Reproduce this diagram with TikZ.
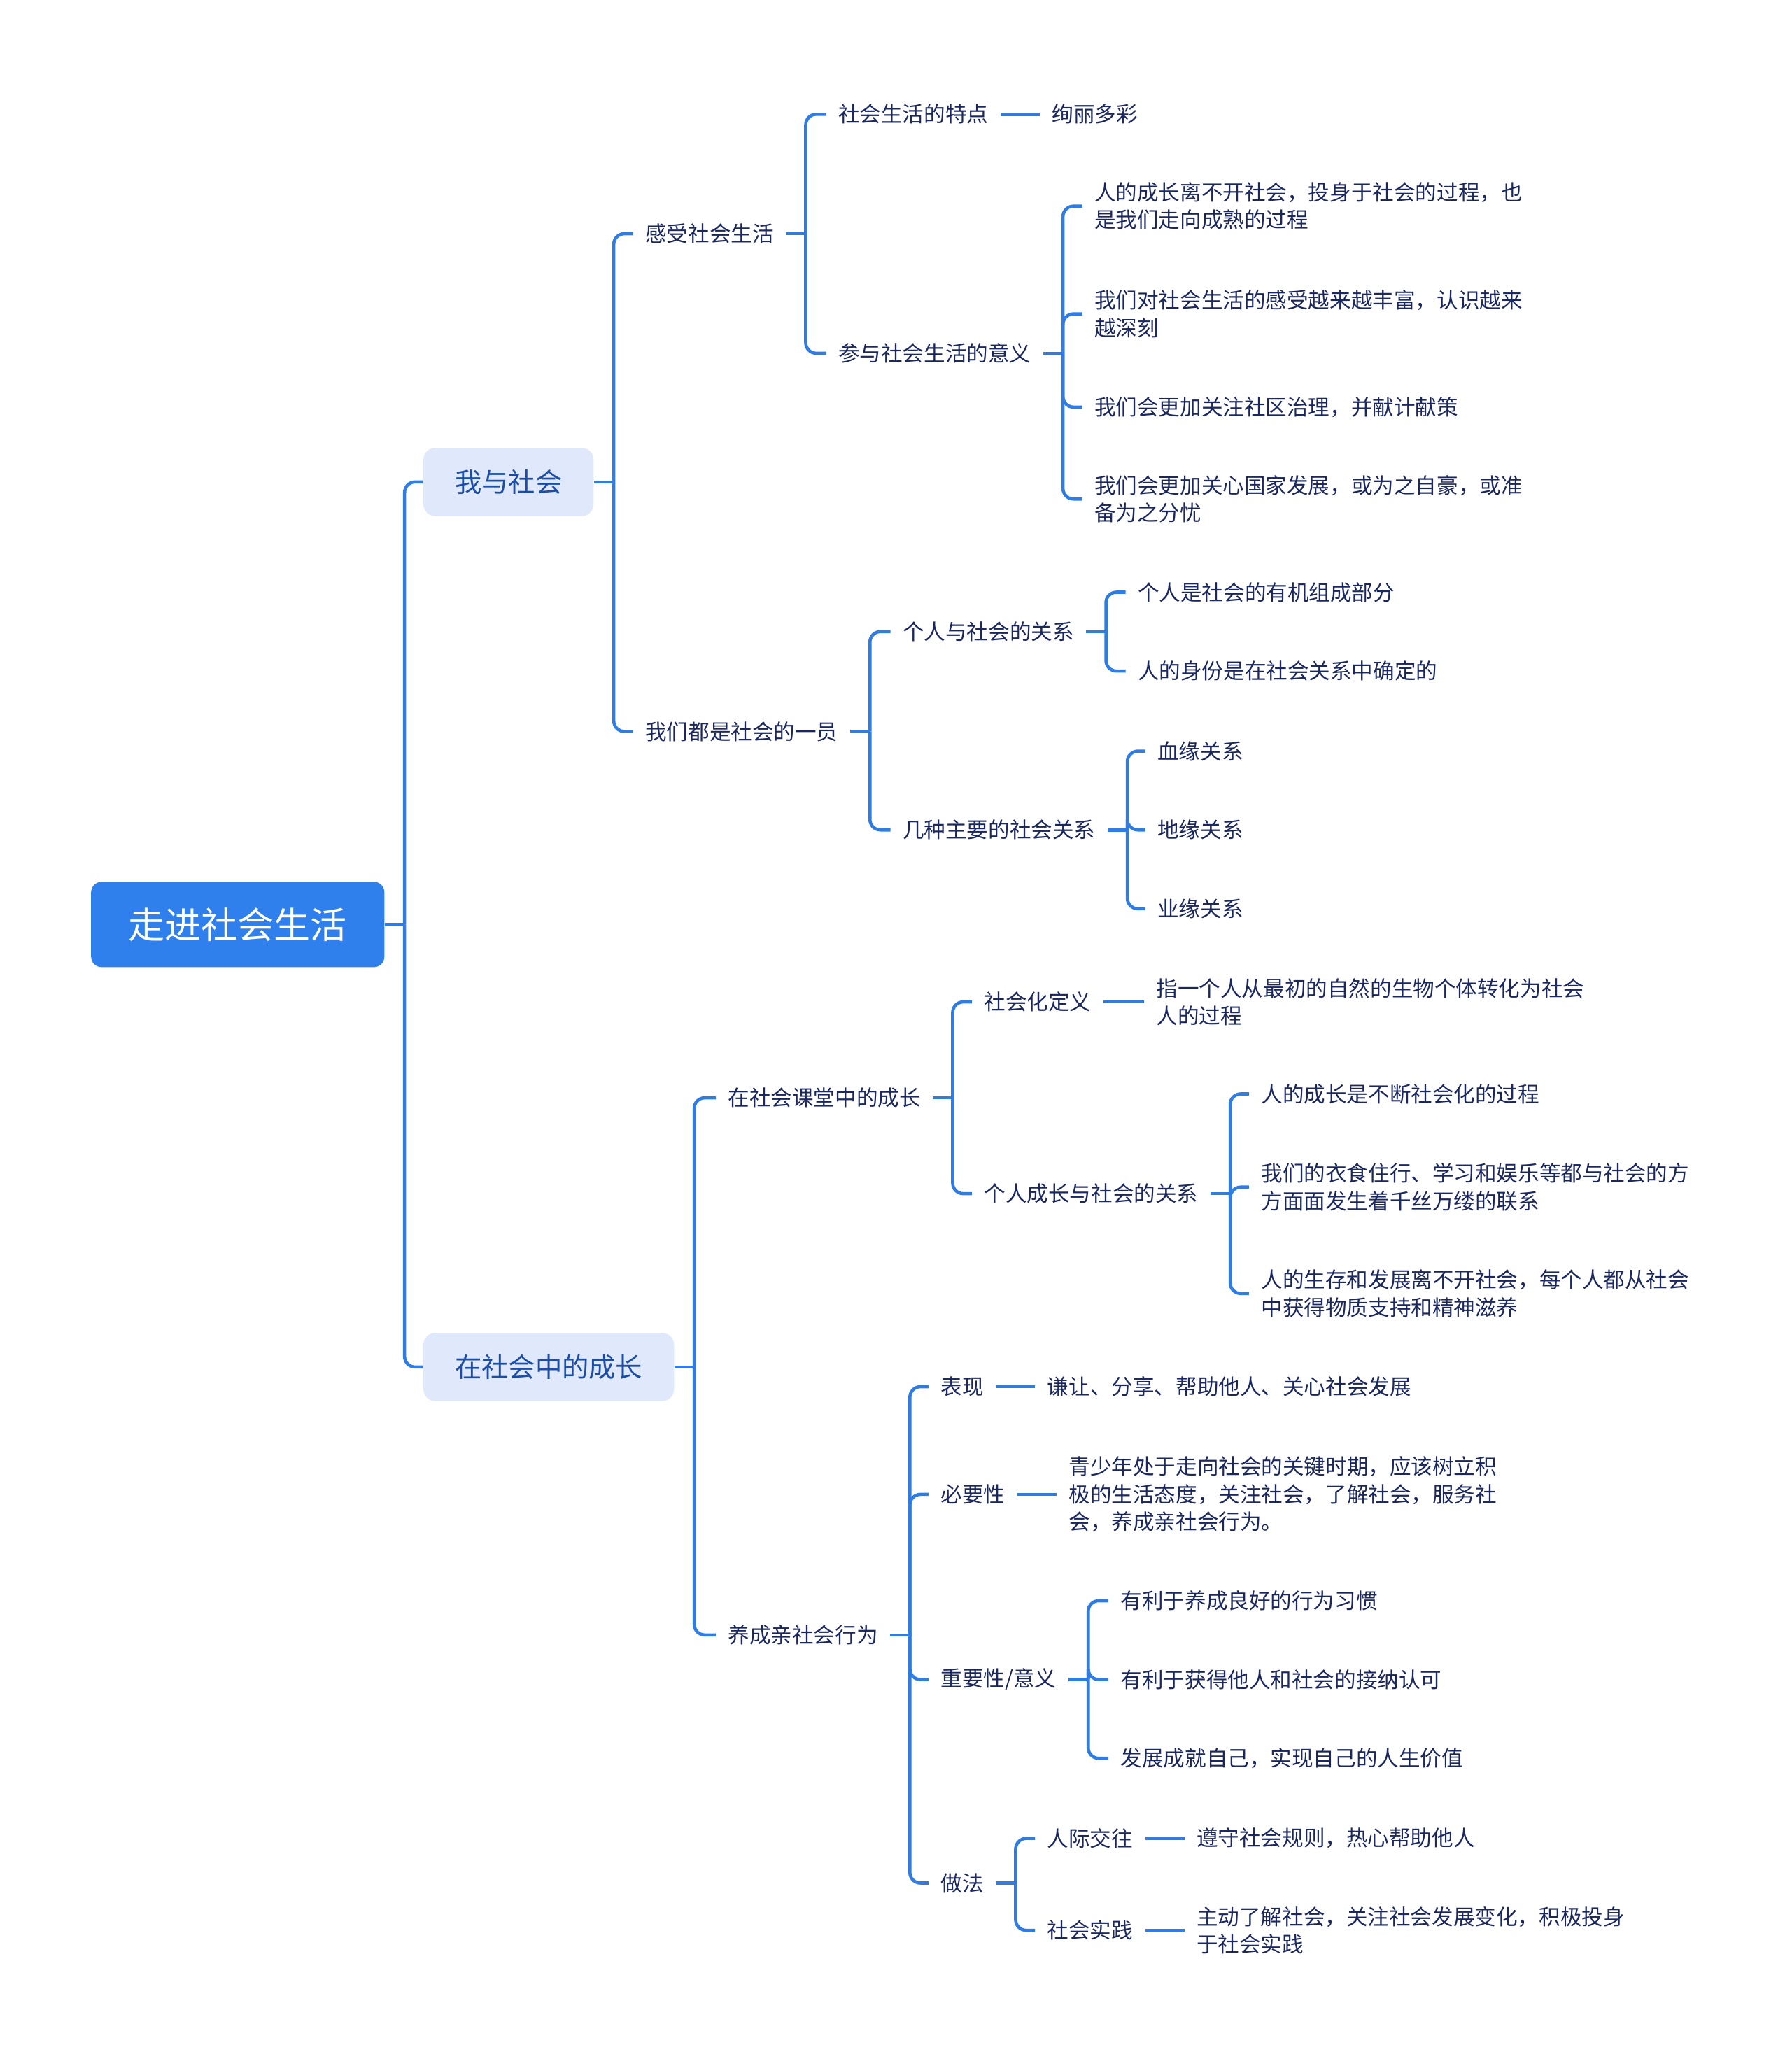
\documentclass[tikz,border=0pt]{standalone}
\usepackage{fontspec}
\setmainfont{Noto Sans CJK SC}
\usepackage{xcolor}
\usepackage{tikz}
\usetikzlibrary{positioning}
\definecolor{linkblue}{HTML}{2F7CE3}
\definecolor{rootblue}{HTML}{2F80ED}
\definecolor{topicfill}{HTML}{E0E8FB}
\definecolor{topicink}{HTML}{1D4EA6}
\definecolor{ink}{HTML}{1B2860}

\begin{document}
\begin{tikzpicture}[
  x=0.01877cm, y=-0.01877cm,
  font=\fontsize{8.7pt}{11.2pt}\selectfont,
  root/.style={fill=rootblue, text=white, rounded corners=1.5mm, anchor=west,
               minimum height=12.2mm, inner xsep=5.35mm,
               font=\fontsize{14.8pt}{18pt}\selectfont},
  topic/.style={fill=topicfill, text=topicink, rounded corners=1.7mm, anchor=west,
                minimum height=9.76mm, inner xsep=4.5mm,
                font=\fontsize{10.9pt}{13pt}\selectfont},
  leaf/.style={text=ink, anchor=west, align=left, inner xsep=1.69mm, inner ysep=0.6mm},
  branch/.style={draw=linkblue, line width=1.3pt, rounded corners=1.5mm}
]
  \useasboundingbox (0,0) rectangle (1364,1568);

  % root and the two main topics
  \node[root] (root) at (69,704) {走进社会生活};
  \node[topic] (me) at (322,367) {我与社会};
  \node[topic] (grow) at (322,1041) {在社会中的成长};

  % 我与社会
  \node[leaf] (feel) at (482,178) {感受社会生活};
  \node[leaf] (member) at (482,557) {我们都是社会的一员};
  \node[leaf] (trait) at (629,87) {社会生活的特点};
  \node[leaf, right=5.6mm of trait] (colorful) {绚丽多彩};
  \node[leaf] (meaning) at (629,269) {参与社会生活的意义};
  \node[leaf] (m1) at (824,157) {人的成长离不开社会，投身于社会的过程，也\\是我们走向成熟的过程};
  \node[leaf] (m2) at (824,239) {我们对社会生活的感受越来越丰富，认识越来\\越深刻};
  \node[leaf] (m3) at (824,310) {我们会更加关注社区治理，并献计献策};
  \node[leaf] (m4) at (824,380) {我们会更加关心国家发展，或为之自豪，或准\\备为之分忧};
  \node[leaf] (relation) at (678,481) {个人与社会的关系};
  \node[leaf] (r1) at (857,451) {个人是社会的有机组成部分};
  \node[leaf] (r2) at (857,511) {人的身份是在社会关系中确定的};
  \node[leaf] (kinds) at (678,632) {几种主要的社会关系};
  \node[leaf] (k1) at (872,572) {血缘关系};
  \node[leaf] (k2) at (872,632) {地缘关系};
  \node[leaf] (k3) at (872,692) {业缘关系};

  % 在社会中的成长
  \node[leaf] (classroom) at (545,836) {在社会课堂中的成长};
  \node[leaf] (prosocial) at (545,1245) {养成亲社会行为};
  \node[leaf] (define) at (740,763) {社会化定义};
  \node[leaf, right=5.8mm of define] (defText) {指一个人从最初的自然的生物个体转化为社会\\人的过程};
  \node[leaf] (selfRel) at (740,909) {个人成长与社会的关系};
  \node[leaf] (s1) at (951,833) {人的成长是不断社会化的过程};
  \node[leaf] (s2) at (951,904) {我们的衣食住行、学习和娱乐等都与社会的方\\方面面发生着千丝万缕的联系};
  \node[leaf] (s3) at (951,985) {人的生存和发展离不开社会，每个人都从社会\\中获得物质支持和精神滋养};
  \node[leaf] (show) at (707,1056) {表现};
  \node[leaf, right=5.6mm of show] (showText) {谦让、分享、帮助他人、关心社会发展};
  \node[leaf] (need) at (707,1138) {必要性};
  \node[leaf, right=5.6mm of need] (needText) {青少年处于走向社会的关键时期，应该树立积\\极的生活态度，关注社会，了解社会，服务社\\会，养成亲社会行为。};
  \node[leaf] (value) at (707,1279) {重要性/意义};
  \node[leaf] (v1) at (844,1219) {有利于养成良好的行为习惯};
  \node[leaf] (v2) at (844,1279) {有利于获得他人和社会的接纳认可};
  \node[leaf] (v3) at (844,1339) {发展成就自己，实现自己的人生价值};
  \node[leaf] (how) at (707,1434) {做法};
  \node[leaf] (h1) at (788,1400) {人际交往};
  \node[leaf, right=5.6mm of h1] (h1Text) {遵守社会规则，热心帮助他人};
  \node[leaf] (h2) at (788,1470) {社会实践};
  \node[leaf, right=5.6mm of h2] (h2Text) {主动了解社会，关注社会发展变化，积极投身\\于社会实践};

  % brackets: stub to a bus, then one rounded branch per child
  \draw[branch] (root.east) -- ++(15,0) coordinate (rootBus);
  \foreach \kid in {me,grow} \draw[branch] (rootBus) |- (\kid.west);
  \draw[branch] (me.east) -- ++(15,0) coordinate (meBus);
  \foreach \kid in {feel,member} \draw[branch] (meBus) |- (\kid.west);
  \draw[branch] (feel.east) -- ++(15,0) coordinate (feelBus);
  \foreach \kid in {trait,meaning} \draw[branch] (feelBus) |- (\kid.west);
  \draw[branch] (meaning.east) -- ++(15,0) coordinate (meaningBus);
  \foreach \kid in {m1,m2,m3,m4} \draw[branch] (meaningBus) |- (\kid.west);
  \draw[branch] (member.east) -- ++(15,0) coordinate (memberBus);
  \foreach \kid in {relation,kinds} \draw[branch] (memberBus) |- (\kid.west);
  \draw[branch] (relation.east) -- ++(15,0) coordinate (relationBus);
  \foreach \kid in {r1,r2} \draw[branch] (relationBus) |- (\kid.west);
  \draw[branch] (kinds.east) -- ++(15,0) coordinate (kindsBus);
  \foreach \kid in {k1,k2,k3} \draw[branch] (kindsBus) |- (\kid.west);
  \draw[branch] (grow.east) -- ++(15,0) coordinate (growBus);
  \foreach \kid in {classroom,prosocial} \draw[branch] (growBus) |- (\kid.west);
  \draw[branch] (classroom.east) -- ++(15,0) coordinate (classBus);
  \foreach \kid in {define,selfRel} \draw[branch] (classBus) |- (\kid.west);
  \draw[branch] (selfRel.east) -- ++(15,0) coordinate (selfBus);
  \foreach \kid in {s1,s2,s3} \draw[branch] (selfBus) |- (\kid.west);
  \draw[branch] (prosocial.east) -- ++(15,0) coordinate (proBus);
  \foreach \kid in {show,need,value,how} \draw[branch] (proBus) |- (\kid.west);
  \draw[branch] (value.east) -- ++(15,0) coordinate (valueBus);
  \foreach \kid in {v1,v2,v3} \draw[branch] (valueBus) |- (\kid.west);
  \draw[branch] (how.east) -- ++(15,0) coordinate (howBus);
  \foreach \kid in {h1,h2} \draw[branch] (howBus) |- (\kid.west);

  % single follow-on lines
  \draw[branch] (trait) -- (colorful);
  \draw[branch] (define) -- (defText);
  \draw[branch] (show) -- (showText);
  \draw[branch] (need) -- (needText);
  \draw[branch] (h1) -- (h1Text);
  \draw[branch] (h2) -- (h2Text);
\end{tikzpicture}
\end{document}
